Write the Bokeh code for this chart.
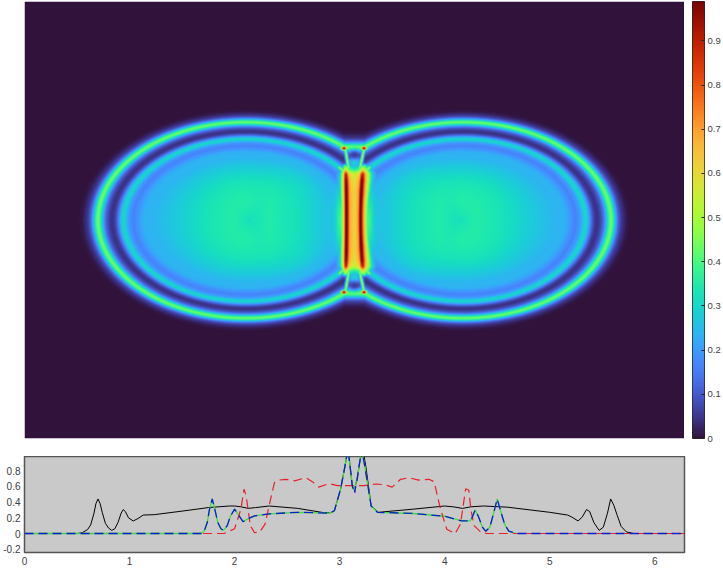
import numpy as np
from bokeh.embed import file_html
from bokeh.resources import INLINE
from bokeh.layouts import column, row
from bokeh.models import LinearColorMapper, FixedTicker, Range1d
from bokeh.palettes import Turbo256
from bokeh.plotting import figure

# lower panel curves
black_x = [0, .5, .55, .6, .63, .66, .68, .70, .72, .74, .77, .80, .83, .86, .89, .92, .94, .96, .99, 1.035, 1.08, 1.13,
           1.235, 1.5, 1.75, 1.95, 2.0, 2.06, 2.13, 2.2, 2.33, 2.6, 2.85, 2.92, 2.95, 3.01, 3.05, 3.08, 3.1, 3.12, 3.14,
           3.17, 3.19, 3.22, 3.25, 3.3, 3.37, 3.7, 4.0, 4.08, 4.17, 4.25, 4.37, 4.6, 5.0, 5.17, 5.21, 5.27, 5.31, 5.35,
           5.38, 5.42, 5.47, 5.51, 5.55, 5.58, 5.61, 5.64, 5.68, 5.73, 5.8, 6.283]
black_y = [0, 0, .01, .05, .11, .25, .38, .44, .38, .27, .13, .07, .04, .06, .14, .26, .305, .28, .20, .16, .19, .235,
           .24, .285, .33, .35, .35, .34, .32, .33, .35, .32, .265, .265, .29, .57, .85, 1.08, .85, .61, .55,
           .72, .9, 1.08, .85, .35, .27, .31, .35, .34, .32, .34, .35, .335, .27, .235, .21, .16, .21, .305,
           .28, .14, .04, .08, .26, .44, .36, .24, .09, .02, 0, 0]
blue_x = [0, 1.68, 1.71, 1.74, 1.76, 1.787, 1.81, 1.84, 1.87, 1.895, 1.93, 1.96, 2.0, 2.03, 2.08, 2.13, 2.19, 2.33, 2.6,
          2.9, 2.95, 3.01, 3.05, 3.08, 3.1, 3.12, 3.13, 3.14, 3.145, 3.15, 3.16, 3.17, 3.19, 3.21, 3.24, 3.3, 3.36,
          3.7, 4.0, 4.16, 4.24, 4.26, 4.29, 4.32, 4.36, 4.39, 4.43, 4.47, 4.5, 4.53, 4.57, 4.61, 4.68, 6.283]
blue_y = [0, 0, .03, .14, .30, .44, .32, .14, .06, .04, .10, .22, .31, .25, .15, .19, .225, .25, .27,
          .26, .29, .57, .85, 1.08, .85, .61, .56, .58, .52, .58, .62, .72, .9, 1.08, .85, .35, .27,
          .255, .22, .16, .16, .2, .30, .22, .08, .03, .08, .28, .44, .30, .12, .03, 0, 0]
green_x = [0, 1.68, 1.71, 1.74, 1.76, 1.787, 1.81, 1.84, 1.87, 1.895, 1.93, 1.96, 2.0, 2.03, 2.08, 2.13, 2.19, 2.33, 2.6,
           2.9, 2.95, 3.01, 3.05, 3.08, 3.1, 3.12, 3.14, 3.17, 3.19, 3.21, 3.24, 3.3, 3.36,
           3.7, 4.0, 4.16, 4.24, 4.26, 4.29, 4.32, 4.36, 4.39, 4.43, 4.47, 4.5, 4.53, 4.57, 4.61, 4.68]
green_y = [0, 0, .03, .14, .30, .44, .32, .14, .06, .04, .10, .22, .31, .25, .15, .19, .225, .25, .27,
           .26, .29, .57, .85, 1.08, .85, .61, .55, .72, .9, 1.08, .85, .35, .27,
           .255, .22, .16, .16, .2, .30, .22, .08, .03, .08, .28, .44, .30, .12, .03, 0]
red_x = [1.7, 1.9, 2.0, 2.06, 2.09, 2.11, 2.15, 2.19, 2.24, 2.29, 2.35, 2.38, 2.42, 2.49, 2.57, 2.68, 2.74, 2.8, 2.9, 2.98,
         3.06, 3.23, 3.35, 3.43, 3.5, 3.58, 3.66, 3.75, 3.85, 3.9, 3.96, 4.02, 4.1, 4.15, 4.2, 4.23, 4.25, 4.28, 4.35, 4.41, 6.283]
red_y = [0, 0, .06, .31, .565, .48, .1, .01, .02, .12, .48, .65, .68, .69, .67, .71, .66, .59, .635, .61,
         .61, .61, .63, .62, .59, .69, .71, .68, .69, .66, .31, .055, 0, .12, .57, .55, .3, .1, .01, 0, 0]
x_ticks = [0, 1, 2, 3, 4, 5, 6]
y_ticks = [-.2, 0, .2, .4, .6, .8]
y_labels = ["-0.2", "0", "0.2", "0.4", "0.6", "0.8"]
cbar_ticks = [0, .1, .2, .3, .4, .5, .6, .7, .8, .9]
cbar_labels = ["0", "0.1", "0.2", "0.3", "0.4", "0.5", "0.6", "0.7", "0.8", "0.9"]

# central column and junction features of the field
col_off = [-24, -16, -14, -12.3, -10.7, -9.8, -8.8, -7.2, -6, -4.5, 0, 2.7, 4.3, 5.2, 6.8, 8, 10, 12, 14.3, 16, 24]
col_val = [0, .24, .3, .45, .62, .76, 1, 1, .8, .68, .6, .67, .76, 1, 1, .8, .62, .45, .3, .24, 0]
env_dy = [0, 30, 40, 46, 50, 54, 58]
env_amp = [1, 1, .96, .88, .62, .42, 0]
spots = [(343.5, 147.7, .99), (363.5, 147.7, .99), (343.5, 291.7, .99), (363.5, 291.7, .99)]
bars = [(345, 150, 348.3, 168), (363.3, 150, 359.3, 168), (345, 290, 348.3, 272), (363.3, 290, 359.3, 272),
        (343, 171, 339, 167), (365, 171, 369, 167), (343, 269, 339, 273), (365, 269, 369, 273)]
fills = [(354, 162), (354, 277)]
holes = [(354, 154.3), (354, 285)]

W, H = 660, 437
CX, MY, CEN, AX, BY = 354.0, 219.7, 108.5, 148.0, 98.0
PX, PY = np.meshgrid(np.arange(W) + 24.5, np.arange(H) + 1.5)
dx = np.abs(PX - CX)
dy = np.abs(PY - MY)
u = np.maximum(dx, 10.0) - CEN
t0 = np.sqrt((u / AX) ** 2 + (dy / BY) ** 2)
stretch = .45 + .55 * np.clip((t0 - .2) / .45, 0, 1)
t = np.sqrt((u / AX) ** 2 + (stretch * dy / BY) ** 2)
outer = np.interp(2.105 - t * 1.405, black_x, black_y, left=0)
inner = np.interp(2.105 + np.maximum(-u, 0) / 105, black_x, black_y)
cosang = np.abs(u / AX) / np.maximum(t, 1e-6)
w = np.clip((.74 - t) / .2, 0, 1) * np.clip(cosang, 0, 1) ** 2 * (u < 0)
field = (1 - w) * outer + w * inner

raw = PX - CX
bow = np.where(raw > 0, .35, .08) * (dy / 48) ** 2
d = raw / (1 + bow)
col = np.interp(d, col_off, col_val) * np.interp(dy, env_dy, env_amp)
field = np.maximum(field, col)
for (sx, sy) in fills:
    field = np.maximum(field, .3 * np.exp(-((PX - sx) ** 2 / (2 * 6.0 ** 2) + (PY - sy) ** 2 / (2 * 5.0 ** 2))))
for (sx, sy) in holes:
    k = np.exp(-((PX - sx) ** 2 + (PY - sy) ** 2) / (2 * 3.4 ** 2))
    field = field * (1 - k) + .06 * k
for (x0, y0, x1, y1) in bars:
    vx, vy = x1 - x0, y1 - y0
    s = np.clip(((PX - x0) * vx + (PY - y0) * vy) / (vx * vx + vy * vy), 0, 1)
    dist2 = (PX - x0 - s * vx) ** 2 + (PY - y0 - s * vy) ** 2
    field = np.maximum(field, .48 * np.exp(-dist2 / (2 * 1.3 ** 2)))
for (sx, sy, val) in spots:
    field = np.maximum(field, val * np.exp(-((PX - sx) ** 2 / (2 * 2.6 ** 2) + (PY - sy) ** 2 / (2 * 1.5 ** 2))))
field = field[::-1]

mapper = LinearColorMapper(palette=Turbo256, low=0, high=.989)
TXT = "#404040"
FONT = "Liberation Sans"

main = figure(width=684, height=445, output_backend="svg", toolbar_location=None,
              x_range=Range1d(0, W), y_range=Range1d(0, H), min_border_left=24, min_border_top=1,
              min_border_right=0, min_border_bottom=7, outline_line_color=None)
main.axis.visible = False
main.grid.visible = False
main.image(image=[field], x=0, y=0, dw=W, dh=H, color_mapper=mapper)

bar_vals = np.linspace(0, .989, 256).reshape(-1, 1)
cb = figure(width=39, height=445, output_backend="svg", toolbar_location=None,
            x_range=Range1d(0, 1), y_range=Range1d(0, .989), min_border_left=8, min_border_top=1,
            min_border_right=18, min_border_bottom=7, outline_line_color="#262626", outline_line_width=1,
            y_axis_location="right", x_axis_location=None)
cb.grid.visible = False
cb.image(image=[bar_vals], x=0, y=0, dw=1, dh=.989, color_mapper=mapper)
cb.yaxis.ticker = FixedTicker(ticks=cbar_ticks)
cb.yaxis.major_label_overrides = dict(zip(cbar_ticks, cbar_labels))
cb.yaxis.major_tick_in = 3
cb.yaxis.major_tick_out = 0
cb.yaxis.minor_tick_line_color = None
cb.yaxis.axis_line_color = None
cb.yaxis.major_tick_line_color = "#262626"
cb.yaxis.major_label_text_font = FONT
cb.yaxis.major_label_text_font_size = "9.5px"
cb.yaxis.major_label_text_color = TXT
cb.yaxis.major_label_standoff = 3

low = figure(width=723, height=113, output_backend="svg", toolbar_location=None,
             x_range=Range1d(0, 6.283), y_range=Range1d(-.2415, .98), min_border_left=24, min_border_top=0,
             min_border_right=39, min_border_bottom=17, background_fill_color="#c9c9c9",
             outline_line_color="#555555", outline_line_width=1.5, margin=(11, 0, 0, 0))
low.grid.visible = False
low.line(black_x, black_y, line_color="black", line_width=1)
low.line(green_x, green_y, line_color="#3fdc3f", line_width=1.3)
low.line(red_x, red_y, line_color="#e8202a", line_width=1.2, line_dash="9 5")
low.line(blue_x, blue_y, line_color="#0a1fc8", line_width=1.3, line_dash="9 5")
low.xaxis.ticker = FixedTicker(ticks=x_ticks)
low.yaxis.ticker = FixedTicker(ticks=y_ticks)
low.yaxis.major_label_overrides = dict(zip(y_ticks, y_labels))
for ax in (low.xaxis[0], low.yaxis[0]):
    ax.major_tick_in = 0
    ax.major_tick_out = 0
    ax.minor_tick_line_color = None
    ax.axis_line_color = None
    ax.major_label_text_font = FONT
    ax.major_label_text_font_size = "10px"
    ax.major_label_text_color = TXT
    ax.major_label_standoff = 4

root = column(row(main, cb, spacing=0), low, spacing=0)
open("out.html", "w").write(file_html(root, INLINE))
